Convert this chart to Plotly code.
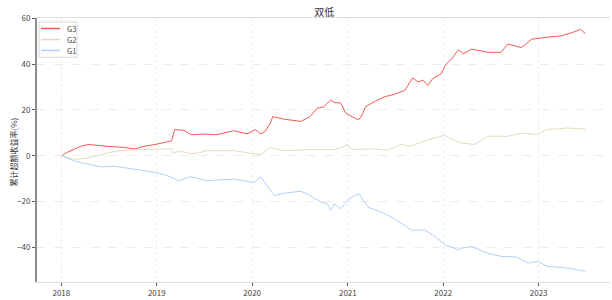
import plotly.graph_objects as go

# G3 (red)
g3_dates = ["2018-01-02","2018-01-20","2018-03-18","2018-04-15","2018-06-17","2018-08-22","2018-10-08",
            "2018-11-17","2018-12-25","2019-02-13","2019-02-27","2019-03-10","2019-04-15","2019-05-12",
            "2019-06-30","2019-08-18","2019-10-22","2019-12-12","2020-01-13","2020-02-03","2020-02-20",
            "2020-03-10","2020-03-20","2020-05-01","2020-07-05","2020-08-10","2020-09-05","2020-10-01",
            "2020-10-27","2020-11-10","2020-12-05","2020-12-24","2021-01-20","2021-02-08","2021-02-20",
            "2021-03-10","2021-04-12","2021-05-22","2021-06-28","2021-08-07","2021-09-06","2021-09-27",
            "2021-10-15","2021-11-03","2021-11-22","2021-12-24","2022-01-12","2022-02-02","2022-02-28",
            "2022-03-18","2022-04-20","2022-06-20","2022-08-10","2022-09-05","2022-10-27","2022-12-05",
            "2023-01-26","2023-03-28","2023-05-08","2023-06-10","2023-06-28"]
g3_values = [0.0,1.3,4.2,4.9,4.2,3.7,3.0,
             4.2,4.9,6.0,6.5,11.4,11.1,9.2,
             9.4,9.2,10.9,9.6,11.4,9.5,10.7,
             14.2,17.1,16.0,15.0,17.1,20.7,21.4,
             24.3,23.3,23.0,18.6,16.7,15.7,16.7,
             21.4,23.6,25.8,26.8,28.6,34.0,32.2,
             33.1,30.8,33.7,35.8,40.1,42.3,46.3,
             44.6,46.6,45.2,45.2,48.8,47.3,50.9,
             51.7,52.4,53.8,55.2,53.5]

# G2 (beige)
g2_dates = ["2018-01-02","2018-02-20","2018-04-12","2018-05-22","2018-06-28","2018-08-18","2018-10-22",
            "2018-12-25","2019-02-28","2019-03-05","2019-03-25","2019-05-12","2019-06-15","2019-07-05",
            "2019-10-22","2020-02-03","2020-03-10","2020-05-01","2020-08-10","2020-11-10","2020-12-05",
            "2020-12-31","2021-01-15","2021-04-12","2021-06-03","2021-07-24","2021-08-30","2021-11-03",
            "2022-01-05","2022-02-14","2022-03-10","2022-04-30","2022-06-20","2022-09-05","2022-10-27",
            "2022-12-25","2023-02-02","2023-04-22","2023-06-28"]
g2_values = [0.0,-1.6,-1.0,0.0,1.3,2.3,2.7,
             2.7,3.0,0.9,2.2,0.9,1.3,2.2,
             2.2,0.4,3.7,2.2,2.7,2.7,3.5,
             4.9,2.7,3.0,2.4,4.9,4.2,7.0,
             8.9,6.6,5.6,4.9,8.5,8.5,9.9,
             9.2,11.4,12.1,11.6]

# G1 (blue)
g1_dates = ["2018-01-02","2018-02-20","2018-04-12","2018-06-03","2018-07-24","2018-09-13","2018-11-03",
            "2018-12-25","2019-02-13","2019-03-25","2019-05-12","2019-06-15","2019-07-10","2019-10-22",
            "2020-01-08","2020-02-03","2020-02-28","2020-03-25","2020-05-01","2020-07-05","2020-08-10",
            "2020-09-20","2020-10-15","2020-10-27","2020-11-10","2020-12-05","2020-12-31","2021-01-26",
            "2021-02-13","2021-03-18","2021-05-08","2021-06-28","2021-09-02","2021-10-22","2021-12-02",
            "2022-01-08","2022-02-28","2022-03-10","2022-04-20","2022-06-20","2022-08-10","2022-10-08",
            "2022-11-22","2022-12-28","2023-02-02","2023-04-22","2023-06-28"]
g1_values = [0.0,-2.3,-3.7,-4.9,-4.6,-5.5,-6.6,
             -7.3,-8.8,-10.9,-9.2,-10.0,-10.9,-10.2,
             -11.7,-9.2,-13.1,-17.4,-16.4,-15.5,-17.4,
             -20.3,-21.0,-23.9,-21.0,-23.2,-19.5,-17.4,
             -16.7,-22.4,-24.6,-27.5,-32.5,-32.5,-35.4,
             -39.0,-41.1,-40.4,-39.7,-42.6,-44.0,-44.3,
             -46.9,-46.2,-48.3,-49.1,-50.5]

series_names = ["G3", "G2", "G1"]
series_colors = ["#ef5b55", "#e6d9c2", "#b3cffb"]

x_tick_vals = ["2018-01-01","2019-01-01","2020-01-01","2021-01-01","2022-01-01","2023-01-01"]
x_tick_text = ["2018","2019","2020","2021","2022","2023"]
y_tick_vals = [-40,-20,0,20,40,60]

title_text = "双低"
y_title = "累计超额收益率(%)"

font_family = "Noto Sans CJK SC, DejaVu Sans, sans-serif"

fig = go.Figure()
for name, xs, ys, col in zip(series_names,
                             [g3_dates, g2_dates, g1_dates],
                             [g3_values, g2_values, g1_values],
                             series_colors):
    fig.add_trace(go.Scatter(x=xs, y=ys, mode="lines", name=name,
                             line=dict(color=col, width=1), showlegend=False))

# plot-area geometry in pixels (for legend / label placement)
PL, PR, PT, PB = 36, 610, 18, 287
def px(x):
    return (x - PL) / (PR - PL)
def py(y):
    return (PB - y) / (PB - PT)

shapes = []
annotations = []
# legend box
shapes.append(dict(type="rect", xref="paper", yref="paper",
                   x0=px(39), x1=px(77), y0=py(58), y1=py(22),
                   line=dict(color="#d9d9d9", width=1), fillcolor="white", layer="above"))
for i, (name, col) in enumerate(zip(series_names, series_colors)):
    yy = [28.7, 40.0, 51.0][i]
    shapes.append(dict(type="line", xref="paper", yref="paper",
                       x0=px(41), x1=px(60), y0=py(yy), y1=py(yy),
                       line=dict(color=col, width=1.5), layer="above"))
    annotations.append(dict(text=name, xref="paper", yref="paper", x=px(65), y=py(yy),
                            xanchor="left", yanchor="middle", showarrow=False,
                            font=dict(size=7.5, color="#444")))
# y-axis title
annotations.append(dict(text=y_title, xref="paper", yref="paper", x=px(13), y=py(155),
                        xanchor="center", yanchor="middle", textangle=-90, showarrow=False,
                        font=dict(size=8, color="#333")))
# dark left spine
shapes.append(dict(type="line", xref="paper", yref="paper", x0=0, x1=0, y0=0, y1=1,
                   line=dict(color="#666", width=1.5)))

fig.update_layout(
    width=612, height=300,
    margin=dict(l=36, r=2, t=18, b=13),
    paper_bgcolor="white", plot_bgcolor="white",
    font=dict(family=font_family, size=8, color="#444"),
    title=dict(text=title_text, x=0.53, xanchor="center", y=0.96, yanchor="middle",
               font=dict(size=10, color="#333")),
    showlegend=False,
    shapes=shapes,
    annotations=annotations,
    xaxis=dict(
        type="date",
        range=["2017-09-26", "2023-10-01"],
        tickvals=x_tick_vals, ticktext=x_tick_text,
        showgrid=True, gridcolor="#ececec", gridwidth=1, griddash="dot",
        showline=True, linecolor="#dddddd", linewidth=1, mirror=True,
        ticks="outside", ticklen=3, tickcolor="#555",
        tickfont=dict(size=8, color="#444"),
        zeroline=False,
    ),
    yaxis=dict(
        range=[-55.2, 60.2],
        tickvals=y_tick_vals,
        showgrid=True, gridcolor="#ececec", gridwidth=1, griddash="dash",
        showline=False,
        ticks="outside", ticklen=3, tickcolor="#555",
        tickfont=dict(size=8, color="#444"),
        zeroline=False,
    ),
)

fig.write_html("out.html")
